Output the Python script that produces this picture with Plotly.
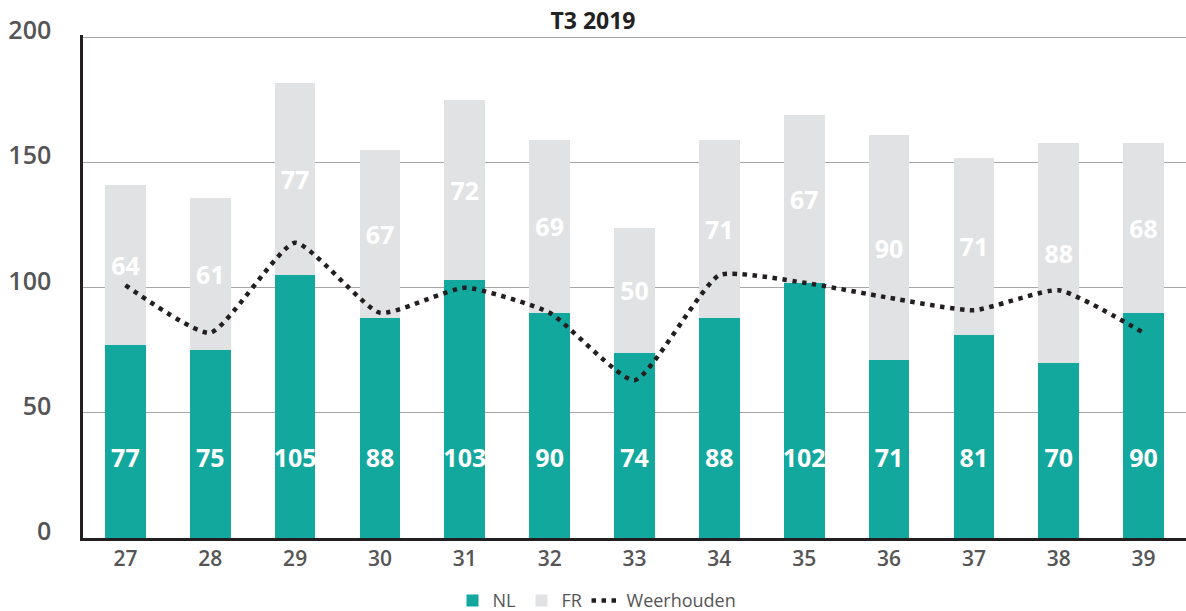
import plotly.graph_objects as go

weeks = ["27", "28", "29", "30", "31", "32", "33", "34", "35", "36", "37", "38", "39"]
nl = [77, 75, 105, 88, 103, 90, 74, 88, 102, 71, 81, 70, 90]
fr = [64, 61, 77, 67, 72, 69, 50, 71, 67, 90, 71, 88, 68]
weerhouden = [101, 82, 118, 90, 100, 90, 63, 105, 102, 96, 91, 99, 82]
y_ticks = [0, 50, 100, 150, 200]

TEAL = "#12a89d"
GREY = "#e1e2e4"
FONT = "Open Sans"
NL_LABEL_Y = 31

fig = go.Figure()
fig.add_trace(go.Bar(
    x=weeks, y=nl, name="NL", marker=dict(color=TEAL, line=dict(width=0)),
    legendwidth=24, hoverinfo="skip",
))
fig.add_trace(go.Bar(
    x=weeks, y=fr, name="FR", marker=dict(color=GREY, line=dict(width=0)),
    text=[str(v) for v in fr], textposition="inside", insidetextanchor="middle",
    constraintext="none",
    textfont=dict(family=FONT, size=25, color="white", weight=700),
    legendwidth=20, hoverinfo="skip",
))
fig.add_trace(go.Scatter(
    x=weeks, y=[NL_LABEL_Y] * len(weeks), mode="text",
    text=[str(v) for v in nl], textposition="middle center",
    textfont=dict(family=FONT, size=25, color="white", weight=700),
    showlegend=False, hoverinfo="skip",
))
fig.add_trace(go.Scatter(
    x=weeks, y=weerhouden, name="Weerhouden", mode="lines",
    line=dict(color="#231f20", width=4.5, dash="4.5px,5.5px", shape="spline", smoothing=0.5),
    hoverinfo="skip",
))

fig.update_layout(
    width=1186, height=611,
    barmode="stack", bargap=0.52,
    plot_bgcolor="white", paper_bgcolor="white",
    margin=dict(l=83, r=0, t=35, b=73, autoexpand=False),
    font=dict(family=FONT, color="#555555"),
    title=dict(text="T3 2019", x=0.5, xanchor="center", xref="container",
               y=1 - 21 / 611, yanchor="middle", yref="container",
               font=dict(family=FONT, size=23, color="#222222", weight=700)),
    legend=dict(orientation="h", x=0.335, xanchor="left", y=-0.088, yanchor="top",
                font=dict(family=FONT, size=18, color="#555555"),
                traceorder="normal"),
    xaxis=dict(range=[-0.5, len(weeks) - 0.5], showline=True, linecolor="#231f20",
               linewidth=2.5, automargin=False, ticks="", showgrid=False,
               tickfont=dict(family=FONT, size=21, color="#555555", weight=600)),
    yaxis=dict(range=[0, 201], tickvals=y_ticks, showline=True, linecolor="#231f20",
               linewidth=2.5, ticks="", showgrid=True, gridcolor="#a6a6a6",
               gridwidth=1.3, zeroline=False, automargin=False,
               ticklabelshift=-7, ticklabelstandoff=24,
               tickfont=dict(family=FONT, size=25, color="#555555", weight=600)),
)

fig.write_html("out.html", config={"displayModeBar": False},
               post_script="document.body.style.margin='0';document.body.style.overflow='hidden';")
